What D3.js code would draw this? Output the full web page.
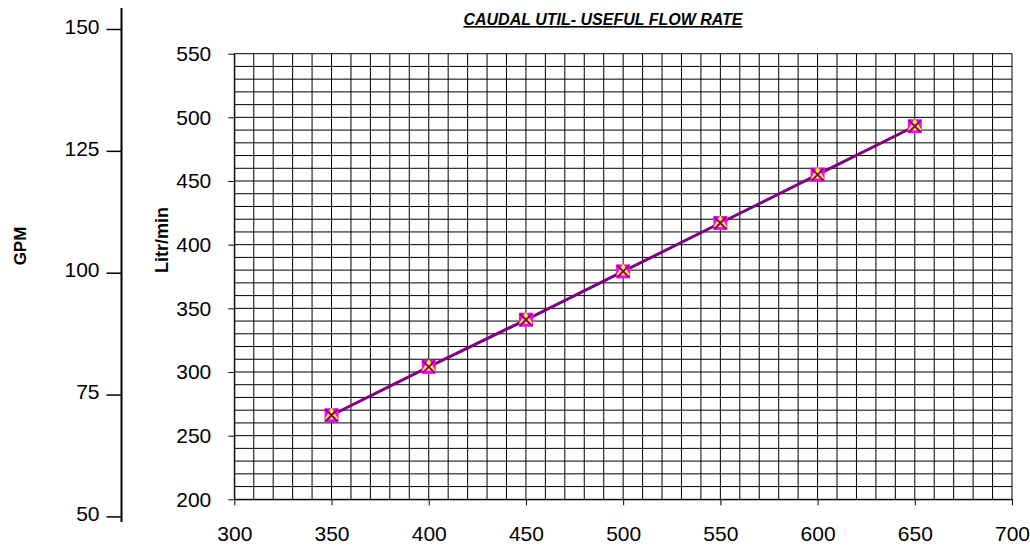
<!DOCTYPE html>
<html><head><meta charset="utf-8">
<script src="https://cdn.jsdelivr.net/npm/d3@7"></script>
<style>
body{margin:0;background:#fff;}
svg{display:block;font-family:"Liberation Sans",Arial,sans-serif;}
</style></head>
<body><svg id="c" width="1030" height="547"></svg>
<script>
const title = "CAUDAL UTIL- USEFUL FLOW RATE";
const xValues = [350, 400, 450, 500, 550, 600, 650];
const litrValues = [266, 304, 341, 379, 417, 455, 493];
const xTicks = [300, 350, 400, 450, 500, 550, 600, 650, 700];
const yTicks = [200, 250, 300, 350, 400, 450, 500, 550];
const gpmTicks = [50, 75, 100, 125, 150];

const svg = d3.select("#c");
const x = d3.scaleLinear().domain([300, 700]).range([234.3, 1012]);
const y = d3.scaleLinear().domain([200, 550]).range([499.3, 53.7]);
const yG = d3.scaleLinear().domain([50, 150]).range([516.4, 29]);

// grid
const g = svg.append("g");
g.selectAll("line.h").data(d3.range(200, 551, 10)).join("line")
  .attr("x1", x(300)).attr("x2", x(700)).attr("y1", d => y(d)).attr("y2", d => y(d))
  .attr("stroke", "#000").attr("stroke-width", 1);
g.selectAll("line.v").data(d3.range(300, 701, 10)).join("line")
  .attr("y1", y(200)).attr("y2", y(550)).attr("x1", d => x(d)).attr("x2", d => x(d))
  .attr("stroke", "#000").attr("stroke-width", 1);

// left axis (Litr/min)
const ay = svg.append("g").attr("transform", `translate(${x(300)},0)`)
  .call(d3.axisLeft(y).tickValues(yTicks).tickSize(6).tickSizeOuter(0).tickPadding(17));
ay.select(".domain").attr("stroke", "#000");
ay.selectAll("text").attr("font-size", 21).attr("fill", "#000").attr("font-family", "Liberation Sans, Arial");

// bottom axis
const ax = svg.append("g").attr("transform", `translate(0,${y(200)})`)
  .call(d3.axisBottom(x).tickValues(xTicks).tickSize(6).tickSizeOuter(0).tickPadding(21));
ax.select(".domain").attr("stroke", "#000");
ax.selectAll("text").attr("font-size", 21).attr("fill", "#000").attr("font-family", "Liberation Sans, Arial");

// GPM axis
const gx = 121.5;
const ag = svg.append("g").attr("transform", `translate(${gx},0)`)
  .call(d3.axisLeft(yG).tickValues(gpmTicks).tickSize(15).tickSizeOuter(0).tickPadding(7));
ag.select(".domain").remove();
ag.append("line").attr("x1", 0).attr("x2", 0).attr("y1", 8).attr("y2", 522)
  .attr("stroke", "#000").attr("stroke-width", 2);
ag.selectAll(".tick line").attr("stroke-width", 1.5);
ag.selectAll("text").attr("font-size", 21).attr("fill", "#000").attr("font-family", "Liberation Sans, Arial").attr("dy", "0.2em");

// axis titles
svg.append("text").attr("transform", "translate(26,246) rotate(-90)")
  .attr("text-anchor", "middle").attr("font-weight", "bold").attr("font-size", 17).text("GPM");
svg.append("text").attr("transform", "translate(168,240) rotate(-90)")
  .attr("text-anchor", "middle").attr("font-weight", "bold").attr("font-size", 18).text("Litr/min");

// title
svg.append("text").attr("x", 603).attr("y", 25).attr("text-anchor", "middle")
  .attr("font-weight", "bold").attr("font-style", "italic").attr("font-size", 16)
  .attr("text-decoration", "underline").text(title);

// data
const pts = xValues.map((v, i) => [v, litrValues[i]]);
svg.append("path").datum(pts)
  .attr("d", d3.line().x(d => x(d[0])).y(d => y(d[1])))
  .attr("fill", "none").attr("stroke", "#800080").attr("stroke-width", 3);

const m = svg.append("g");
m.selectAll("rect").data(pts).join("rect")
  .attr("x", d => x(d[0]) - 7).attr("y", d => y(d[1]) - 7).attr("width", 14).attr("height", 14)
  .attr("fill", "#ff00ff");
m.selectAll("path.tri").data(pts).join("path").attr("class", "tri")
  .attr("transform", d => `translate(${x(d[0])},${y(d[1])})`)
  .attr("d", d3.symbol(d3.symbolTriangle, 80)()).attr("fill", "#ffff00");
m.selectAll("path.x").data(pts).join("path").attr("class", "x")
  .attr("transform", d => `translate(${x(d[0])},${y(d[1])})`)
  .attr("d", "M-6,-6L6,6M-6,6L6,-6").attr("stroke", "#800080").attr("stroke-width", 2).attr("fill", "none");
</script></body></html>
